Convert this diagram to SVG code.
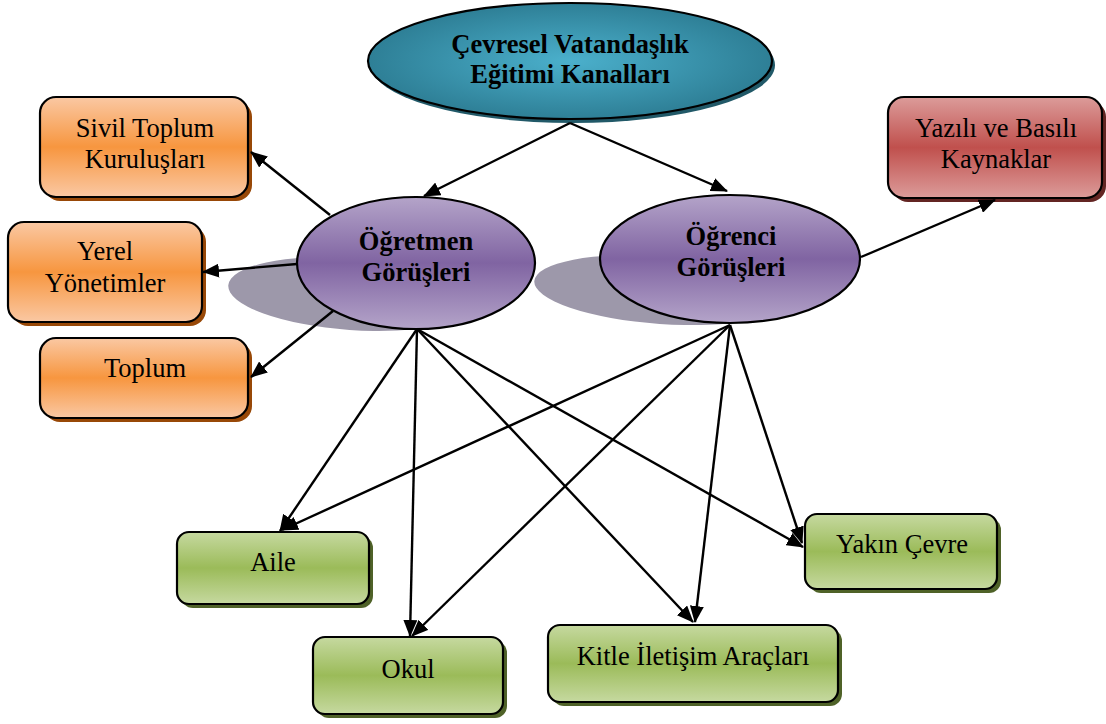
<svg xmlns="http://www.w3.org/2000/svg" width="1106" height="724" viewBox="0 0 1106 724">
  <defs>
    <linearGradient id="gOrange" x1="0" y1="0" x2="0" y2="1">
      <stop offset="0" stop-color="#fac8a3"/>
      <stop offset="0.5" stop-color="#f7963f"/>
      <stop offset="1" stop-color="#fac8a3"/>
    </linearGradient>
    <linearGradient id="gGreen" x1="0" y1="0" x2="0" y2="1">
      <stop offset="0" stop-color="#c6d9a0"/>
      <stop offset="0.5" stop-color="#9bbb59"/>
      <stop offset="1" stop-color="#c6d9a0"/>
    </linearGradient>
    <linearGradient id="gRed" x1="0" y1="0" x2="0" y2="1">
      <stop offset="0" stop-color="#dc9c9a"/>
      <stop offset="0.5" stop-color="#c0504d"/>
      <stop offset="1" stop-color="#dc9c9a"/>
    </linearGradient>
    <linearGradient id="gPurple" x1="0" y1="0" x2="0" y2="1">
      <stop offset="0" stop-color="#b4a4c9"/>
      <stop offset="0.5" stop-color="#8064a2"/>
      <stop offset="1" stop-color="#b4a4c9"/>
    </linearGradient>
    <radialGradient id="gTeal" cx="0.5" cy="0.5" r="0.5">
      <stop offset="0" stop-color="#4bb0cc"/>
      <stop offset="1" stop-color="#2e7f96"/>
    </radialGradient>
    <marker id="arrow" markerUnits="userSpaceOnUse" markerWidth="17" markerHeight="14" refX="16" refY="7" orient="auto">
      <path d="M0,0 L17,7 L0,14 z" fill="#000"/>
    </marker>
    <style>
      .box { stroke: #000; stroke-width: 2.2; }
      .ell { stroke: #000; stroke-width: 2.2; }
      .t { font-family: "Liberation Serif", "Times New Roman", serif; font-size: 26.5px; fill: #000; text-anchor: middle; }
      .b { font-weight: bold; }
      .conn line { stroke: #000; stroke-width: 2.4; marker-end: url(#arrow); }
      .sh-or { fill: #984807; }
      .sh-gr { fill: #4f6228; }
      .sh-rd { fill: #632523; }
      .sh-el { fill: #9d98aa; }
    </style>
  </defs>

  <!-- Root: education channels -->
  <g id="root">
    <ellipse cx="573" cy="65" rx="202" ry="58" fill="#215968"/>
    <ellipse cx="570" cy="61" rx="202" ry="58" class="ell" fill="url(#gTeal)"/>
    <text class="t b" x="570" y="53">Çevresel Vatandaşlık</text>
    <text class="t b" x="570" y="83">Eğitimi Kanalları</text>
  </g>

  <!-- Teacher views -->
  <g id="ogretmen">
    <ellipse cx="352" cy="294" rx="124" ry="36" class="sh-el" transform="rotate(4 352 294)"/>
    <ellipse cx="416" cy="263" rx="119" ry="66" class="ell" fill="url(#gPurple)"/>
    <text class="t b" x="416" y="250">Öğretmen</text>
    <text class="t b" x="416" y="281">Görüşleri</text>
  </g>

  <!-- Student views -->
  <g id="ogrenci">
    <ellipse cx="662" cy="290" rx="128" ry="34" class="sh-el" transform="rotate(4 662 290)"/>
    <ellipse cx="730" cy="259" rx="130" ry="64" class="ell" fill="url(#gPurple)"/>
    <text class="t b" x="731" y="245">Öğrenci</text>
    <text class="t b" x="731" y="276">Görüşleri</text>
  </g>

  <!-- Left column -->
  <g id="sivil">
    <rect x="44" y="101" width="208" height="100" rx="16" class="sh-or"/>
    <rect x="40" y="97" width="208" height="100" rx="16" class="box" fill="url(#gOrange)"/>
    <text class="t" x="145" y="137">Sivil Toplum</text>
    <text class="t" x="145" y="168">Kuruluşları</text>
  </g>
  <g id="yerel">
    <rect x="12" y="226" width="194" height="100" rx="16" class="sh-or"/>
    <rect x="8" y="222" width="194" height="100" rx="16" class="box" fill="url(#gOrange)"/>
    <text class="t" x="105" y="260">Yerel</text>
    <text class="t" x="105" y="292">Yönetimler</text>
  </g>
  <g id="toplum">
    <rect x="44" y="342" width="208" height="80" rx="16" class="sh-or"/>
    <rect x="40" y="338" width="208" height="80" rx="16" class="box" fill="url(#gOrange)"/>
    <text class="t" x="145" y="377">Toplum</text>
  </g>

  <!-- Right side -->
  <g id="yazili">
    <rect x="892" y="101" width="214" height="101" rx="16" class="sh-rd"/>
    <rect x="888" y="97" width="214" height="101" rx="16" class="box" fill="url(#gRed)"/>
    <text class="t" x="996" y="137">Yazılı ve Basılı</text>
    <text class="t" x="996" y="168">Kaynaklar</text>
  </g>

  <!-- Bottom channels -->
  <g id="aile">
    <rect x="181" y="536" width="192" height="72" rx="12" class="sh-gr"/>
    <rect x="177" y="532" width="192" height="72" rx="12" class="box" fill="url(#gGreen)"/>
    <text class="t" x="273" y="571">Aile</text>
  </g>
  <g id="okul">
    <rect x="317" y="641" width="190" height="77" rx="12" class="sh-gr"/>
    <rect x="313" y="637" width="190" height="77" rx="12" class="box" fill="url(#gGreen)"/>
    <text class="t" x="408" y="678">Okul</text>
  </g>
  <g id="kitle">
    <rect x="552" y="629" width="290" height="77" rx="12" class="sh-gr"/>
    <rect x="548" y="625" width="290" height="77" rx="12" class="box" fill="url(#gGreen)"/>
    <text class="t" x="693" y="665">Kitle İletişim Araçları</text>
  </g>
  <g id="yakin">
    <rect x="809" y="518" width="192" height="75" rx="12" class="sh-gr"/>
    <rect x="805" y="514" width="192" height="75" rx="12" class="box" fill="url(#gGreen)"/>
    <text class="t" x="902" y="553">Yakın Çevre</text>
  </g>

  <!-- Connectors -->
  <g id="connectors" class="conn">
    <line x1="570" y1="123" x2="424" y2="196"/>
    <line x1="570" y1="123" x2="727" y2="191"/>
    <line x1="330" y1="215" x2="251" y2="152"/>
    <line x1="297" y1="264" x2="203" y2="272"/>
    <line x1="333" y1="311" x2="251" y2="377"/>
    <line x1="861" y1="257" x2="995" y2="200"/>
    <line x1="417" y1="329" x2="280" y2="531"/>
    <line x1="417" y1="329" x2="410" y2="636"/>
    <line x1="417" y1="329" x2="693" y2="622"/>
    <line x1="417" y1="329" x2="803" y2="547"/>
    <line x1="730" y1="325" x2="282" y2="530"/>
    <line x1="730" y1="325" x2="412" y2="636"/>
    <line x1="730" y1="325" x2="695" y2="622"/>
    <line x1="730" y1="325" x2="802" y2="543"/>
  </g>
</svg>
